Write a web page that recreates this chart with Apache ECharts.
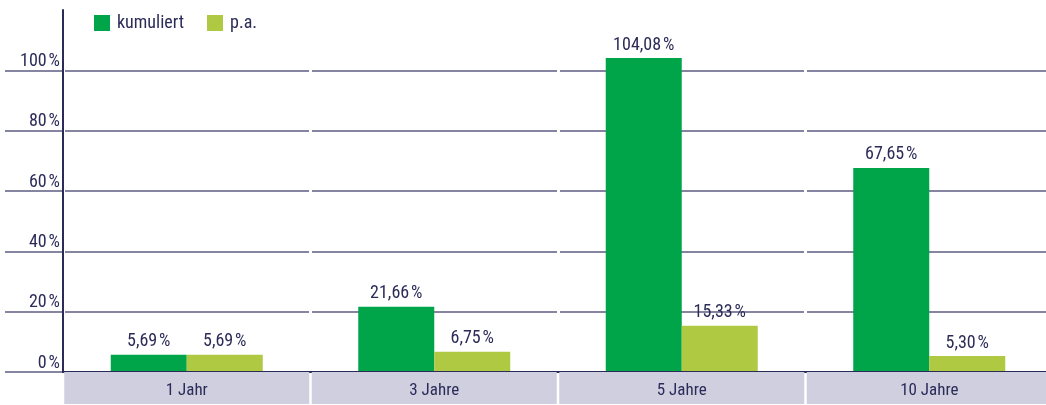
<!DOCTYPE html>
<html>
<head>
<meta charset="utf-8">
<script src="https://cdn.jsdelivr.net/npm/echarts@6/dist/echarts.min.js"></script>
<style>
	html, body { margin: 0; padding: 0; background: #fff; }
	#chart { width: 1046px; height: 405px; }
</style>
</head>
<body>
<div id="chart"></div>
<script>
// data
var categories = ['1 Jahr', '3 Jahre', '5 Jahre', '10 Jahre'];
var kumuliert = [5.69, 21.66, 104.08, 67.65];
var proAnno = [5.69, 6.75, 15.33, 5.30];
var seriesNames = ['kumuliert', 'p.a.'];
var yTicks = [0, 20, 40, 60, 80, 100];

var navy = '#2b2b58';
var gridColor = '#5c5c82';
var font = "'Liberation Sans Narrow', 'Roboto Condensed', 'Roboto', sans-serif";

function pct(v) {
	return v.toFixed(2).replace('.', ',') + '\u200a%';
}

var myChart = echarts.init(document.getElementById('chart'));

var option = {
	animation : false,
	textStyle : { fontFamily : font },
	color : ['#00a54a', '#afc942'],
	legend : {
		data : seriesNames,
		left : 89,
		top : 9,
		itemWidth : 16,
		itemHeight : 16,
		itemGap : 23,
		icon : 'rect',
		textStyle : { color : navy, fontSize : 18, fontFamily : font, padding : [0, 0, 0, 2] }
	},
	grid : [
		{ left : 63, width : 990, top : 10, bottom : 33, outerBoundsMode : 'none', containLabel : false },
		{ left : 5, width : 1048, top : 10, bottom : 33, outerBoundsMode : 'none', containLabel : false }
	],
	xAxis : [
		{
			type : 'category',
			gridIndex : 0,
			data : categories,
			z : 5,
			axisTick : { show : false },
			axisLine : { lineStyle : { color : navy, width : 2 } },
			splitLine : { show : true, lineStyle : { color : '#ffffff', width : 3 } },
			axisLabel : {
				margin : 0,
				color : navy,
				fontSize : 17,
				fontFamily : font,
				backgroundColor : '#cfcfe0',
				width : 245,
				height : 26,
				lineHeight : 26,
				padding : [6, 0, 0, 0],
				align : 'center'
			}
		},
		{
			type : 'category',
			gridIndex : 1,
			data : categories,
			show : false
		}
	],
	yAxis : [
		{
			type : 'value',
			gridIndex : 0,
			min : 0,
			max : 120,
			interval : 20,
			z : 6,
			axisLine : { show : true, lineStyle : { color : navy, width : 2 } },
			axisTick : { show : false },
			splitLine : { show : false },
			axisLabel : {
				color : navy,
				fontSize : 18,
				fontFamily : font,
				margin : 3,
				verticalAlign : 'bottom',
				formatter : function (v) {
					return yTicks.indexOf(v) >= 0 ? v + '\u200a%' : '';
				}
			}
		},
		{
			type : 'value',
			gridIndex : 1,
			min : 0,
			max : 120,
			interval : 20,
			axisLine : { show : false },
			axisTick : { show : false },
			axisLabel : { show : false },
			splitLine : {
				show : true,
				lineStyle : {
					width : 1.5,
					color : [gridColor, gridColor, gridColor, gridColor, gridColor, gridColor, 'rgba(0,0,0,0)']
				}
			}
		}
	],
	series : [
		{
			name : seriesNames[0],
			type : 'bar',
			data : kumuliert,
			barWidth : 76,
			barGap : '0%',
			z : 3,
			label : {
				show : true,
				position : 'top',
				distance : 4,
				color : navy,
				fontSize : 18,
				fontFamily : font,
				formatter : function (p) { return pct(p.value); }
			}
		},
		{
			name : seriesNames[1],
			type : 'bar',
			data : proAnno,
			barWidth : 76,
			barGap : '0%',
			z : 3,
			label : {
				show : true,
				position : 'top',
				distance : 4,
				color : navy,
				fontSize : 18,
				fontFamily : font,
				formatter : function (p) { return pct(p.value); }
			}
		}
	]
};

myChart.setOption(option);
</script>
</body>
</html>
